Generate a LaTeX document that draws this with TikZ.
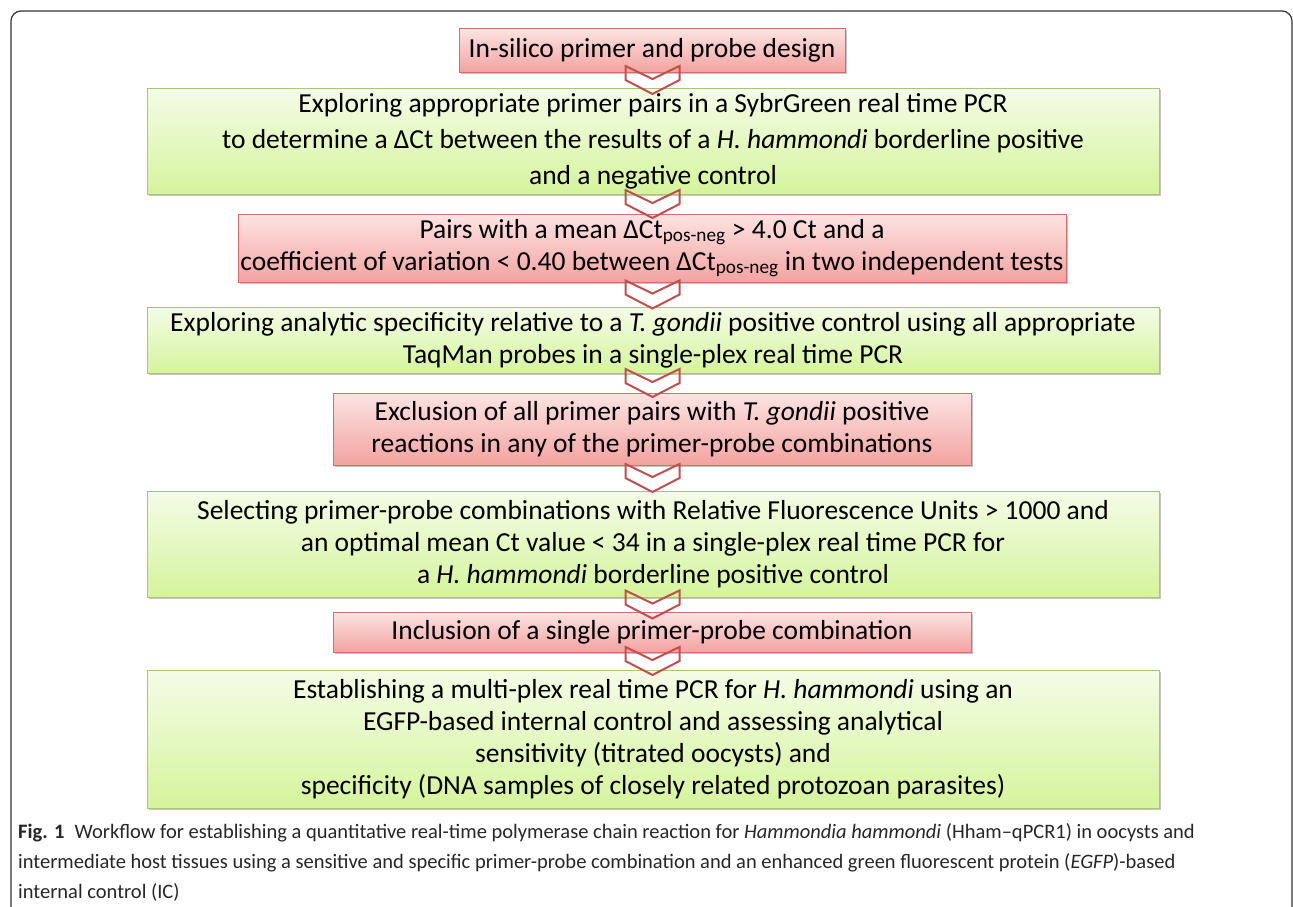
\documentclass[tikz,border=0pt]{standalone}
\usepackage{fontspec}
\setmainfont{Carlito}
\usetikzlibrary{calc, shadows}

\definecolor{redline}{HTML}{D46E6A}
\definecolor{redtop}{HTML}{FCE4E3}
\definecolor{redbot}{HTML}{F3A3A0}
\definecolor{greenline}{HTML}{A9C675}
\definecolor{greentop}{HTML}{F4FCE6}
\definecolor{greenbot}{HTML}{D5F49C}
\definecolor{chevred}{HTML}{C0504D}

\begin{document}
\begin{tikzpicture}[x = 1pt, y = -1pt,
	box/.style = {rectangle, inner sep = 2pt, align = center, font = \fontsize{27.5}{32}\selectfont,
		drop shadow = {shadow xshift = 1.5pt, shadow yshift = -2pt, fill = black!45, opacity = 0.5}},
	redbox/.style = {box, draw = redline, top color = redtop, bottom color = redbot},
	greenbox/.style = {box, draw = greenline, top color = greentop, bottom color = greenbot, minimum width = 1012pt},
	chev/.style = {draw = chevred, line width = 2pt, fill = white, line join = miter}]

	\clip (0, 0) rectangle (1293, 906);

	% Frame round the figure

	\draw[black!80, line width = 1.2pt, rounded corners = 10pt] (11, 11) rectangle (1292, 940);

	% Workflow boxes

	\node[redbox, minimum width = 386pt, minimum height = 44pt] (design) at (652, 50) {In-silico primer and probe design};
	\node[greenbox, minimum height = 106pt, font = \fontsize{27.5}{36}\selectfont] (sybr) at (653, 141) {Exploring appropriate primer pairs in a SybrGreen real time PCR\\ to determine a ΔCt between the results of a \textit{H. hammondi} borderline positive\\ and a negative control};
	\node[redbox, minimum width = 828pt, minimum height = 68pt] (pairs) at (652, 248) {Pairs with a mean ΔCt\textsubscript{pos-neg} > 4.0 Ct and a\\ coefficient of variation < 0.40 between ΔCt\textsubscript{pos-neg} in two independent tests};
	\node[greenbox, minimum height = 66pt] (taqman) at (653, 340) {Exploring analytic specificity relative to a \textit{T. gondii} positive control using all appropriate\\ TaqMan probes in a single-plex real time PCR};
	\node[redbox, minimum width = 638pt, minimum height = 72pt] (exclude) at (652, 429) {Exclusion of all primer pairs with \textit{T. gondii} positive\\ reactions in any of the primer-probe combinations};
	\node[greenbox, minimum height = 106pt] (select) at (653, 544) {Selecting primer-probe combinations with Relative Fluorescence Units > 1000 and\\ an optimal mean Ct value < 34 in a single-plex real time PCR for\\ a \textit{H. hammondi} borderline positive control};
	\node[redbox, minimum width = 638pt, minimum height = 40pt] (include) at (652, 632) {Inclusion of a single primer-probe combination};
	\node[greenbox, minimum height = 138pt] (multi) at (653, 739) {Establishing a multi-plex real time PCR for \textit{H. hammondi} using an\\ EGFP-based internal control and assessing analytical\\ sensitivity (titrated oocysts) and\\ specificity (DNA samples of closely related protozoan parasites)};

	% Chevrons between boxes

	\begin{scope}[chev]
		\draw ($(design.south)!0.5!(sybr.north)$) ++(-27, -14) -- ++(27, 13) -- ++(27, -13) -- ++(0, 14) -- ++(-27, 14) -- ++(-27, -14) -- cycle;
		\draw ($(sybr.south)!0.5!(pairs.north)$) ++(-27, -14) -- ++(27, 13) -- ++(27, -13) -- ++(0, 14) -- ++(-27, 14) -- ++(-27, -14) -- cycle;
		\draw ($(pairs.south)!0.5!(taqman.north)$) ++(-27, -14) -- ++(27, 13) -- ++(27, -13) -- ++(0, 14) -- ++(-27, 14) -- ++(-27, -14) -- cycle;
		\draw ($(taqman.south)!0.5!(exclude.north)$) ++(-27, -14) -- ++(27, 13) -- ++(27, -13) -- ++(0, 14) -- ++(-27, 14) -- ++(-27, -14) -- cycle;
		\draw ($(exclude.south)!0.5!(select.north)$) ++(-27, -14) -- ++(27, 13) -- ++(27, -13) -- ++(0, 14) -- ++(-27, 14) -- ++(-27, -14) -- cycle;
		\draw ($(select.south)!0.5!(include.north)$) ++(-27, -14) -- ++(27, 13) -- ++(27, -13) -- ++(0, 14) -- ++(-27, 14) -- ++(-27, -14) -- cycle;
		\draw ($(include.south)!0.5!(multi.north)$) ++(-27, -14) -- ++(27, 13) -- ++(27, -13) -- ++(0, 14) -- ++(-27, 14) -- ++(-27, -14) -- cycle;
	\end{scope}

	% Caption

	\node[anchor = north west, align = left, inner sep = 0pt, text = black!85, font = \fontsize{20.5}{30}\selectfont] (caption) at (18, 823) {\textbf{Fig. 1}\enspace Workflow for establishing a quantitative real-time polymerase chain reaction for \textit{Hammondia hammondi} (Hham–qPCR1) in oocysts and\\ intermediate host tissues using a sensitive and specific primer-probe combination and an enhanced green fluorescent protein (\textit{EGFP})-based\\ internal control (IC)};

\end{tikzpicture}
\end{document}
